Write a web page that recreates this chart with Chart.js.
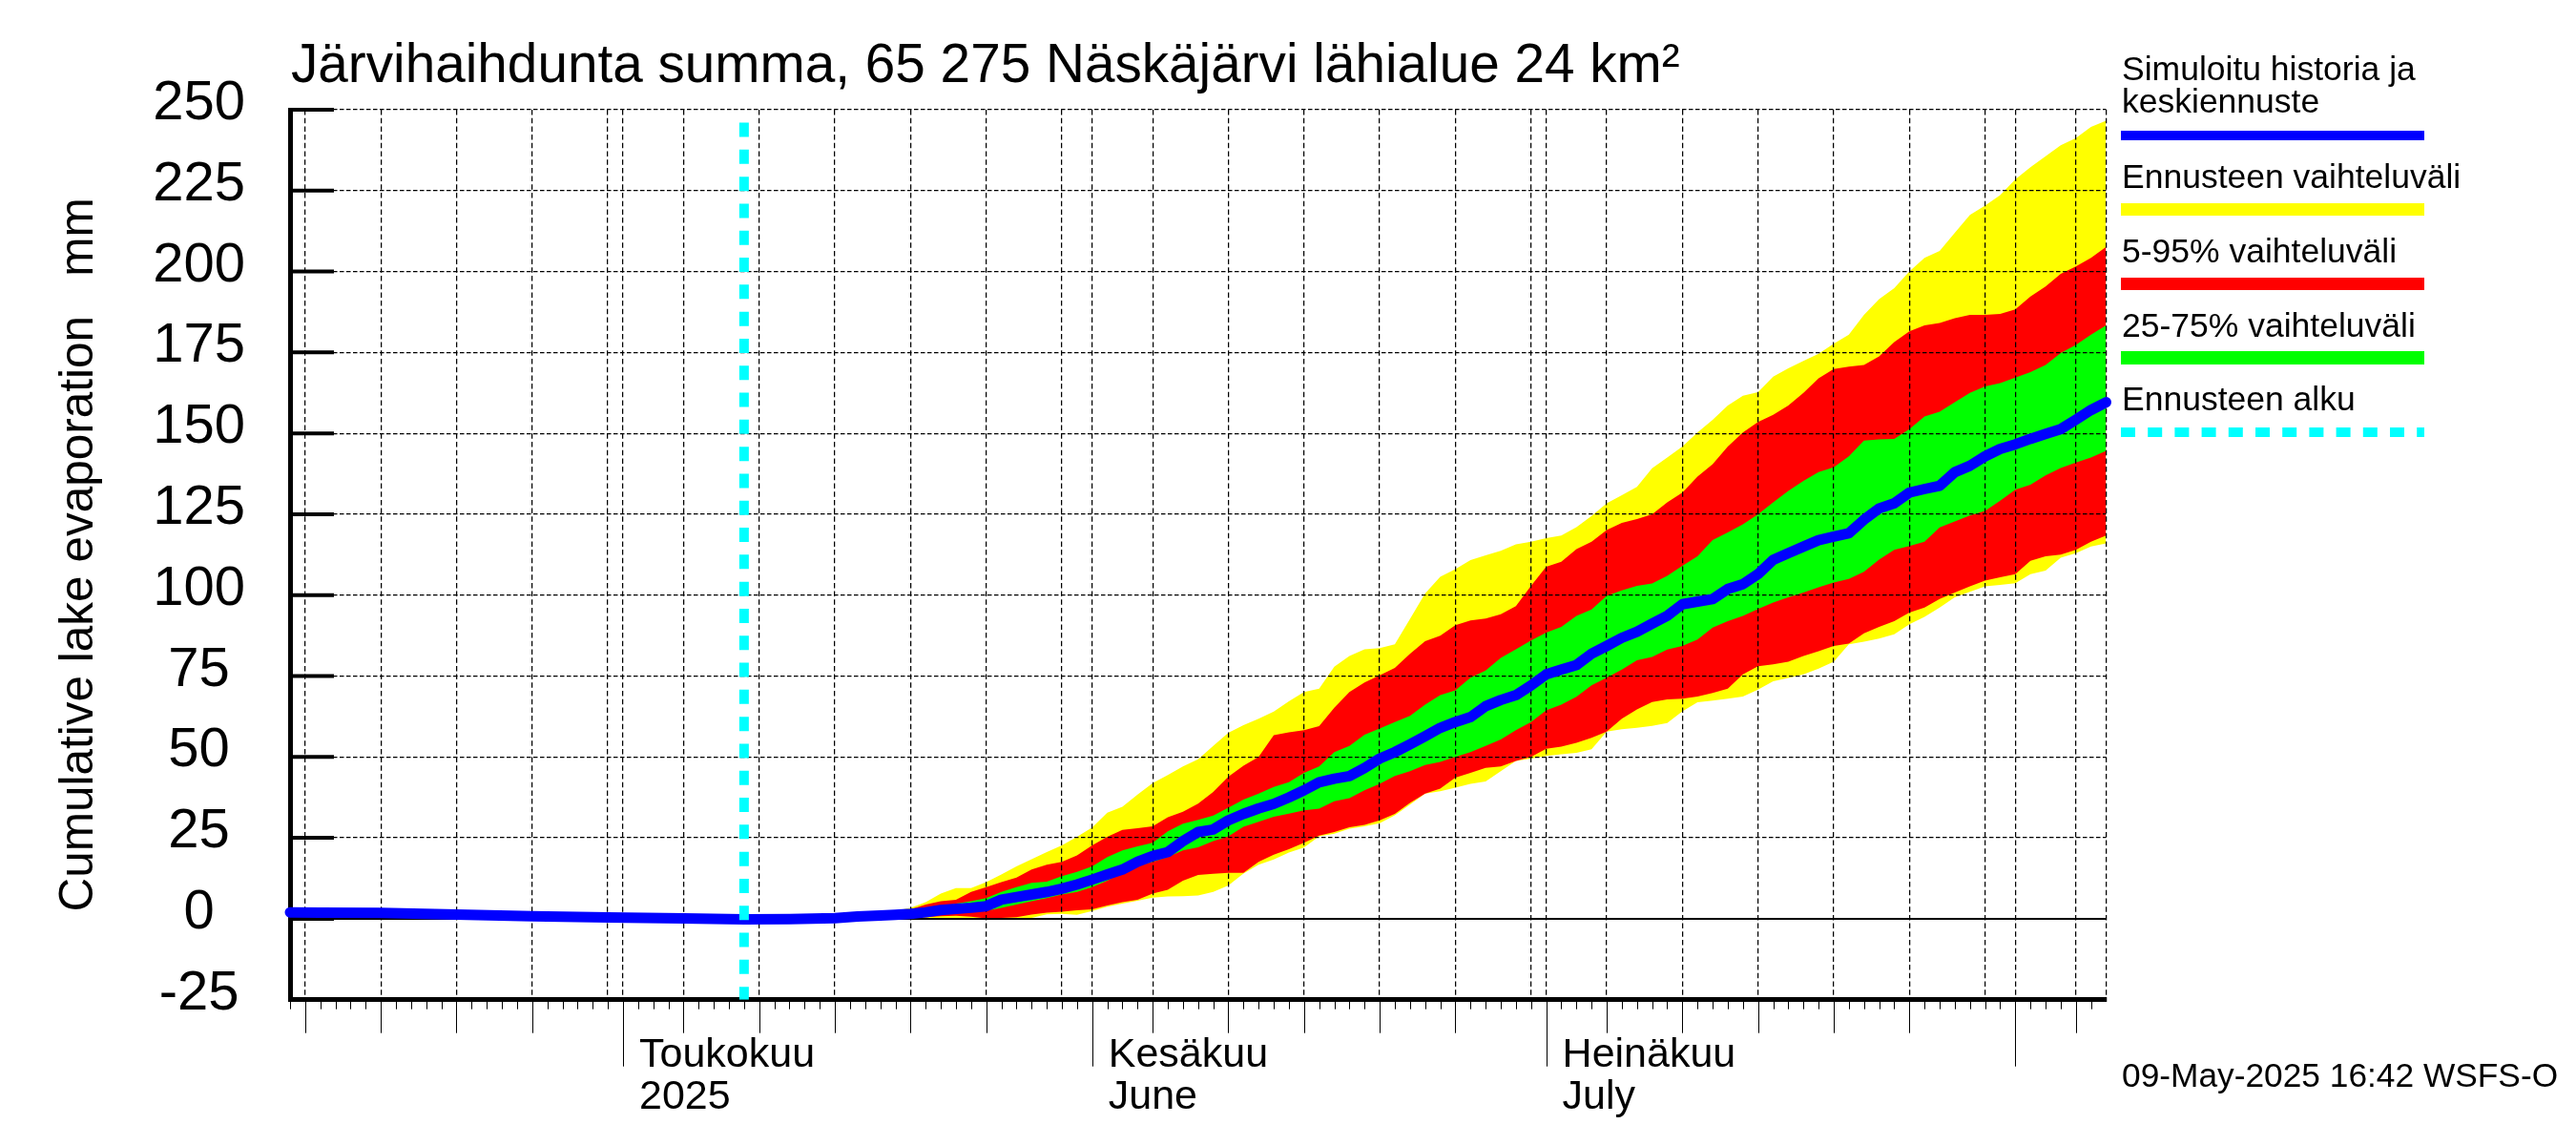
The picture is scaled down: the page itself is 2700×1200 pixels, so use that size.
<!DOCTYPE html>
<html>
<head>
<meta charset="utf-8">
<script src="https://cdn.jsdelivr.net/npm/chart.js@4/dist/chart.umd.min.js"></script>
<style>
html, body { margin: 0; padding: 0; background: #fff; }
canvas { display: block; }
</style>
</head>
<body>
<canvas id="chart" width="2700" height="1200"></canvas>
<script>
// x values are days counted from 1 May 2025
const xMin = -22;
const xMax = 98;
const forecastStart = 8;

const medianDays = [-22, -20, -16, -11, -6, -1, 4, 8, 11, 14, 15.5, 17, 18,
    19, 20, 21, 22, 23, 24, 25, 26, 27, 28, 29, 30, 31, 32, 33, 34, 35, 36, 37, 38,
    39, 40, 41, 42, 43, 44, 45, 46, 47, 48, 49, 50, 51, 52, 53, 54, 55, 56, 57, 58,
    59, 60, 61, 62, 63, 64, 65, 66, 67, 68, 69, 70, 71, 72, 73, 74, 75, 76, 77, 78,
    79, 80, 81, 82, 83, 84, 85, 86, 87, 88, 89, 90, 91, 92, 93, 94, 95, 96, 97, 98];
const median = [2.0, 1.9, 1.8, 1.3, 0.8, 0.4, 0.1, -0.2, -0.1, 0.2, 0.7, 1, 1.2,
    1.5, 2, 2.7, 3.1, 3.4, 3.9, 5.9, 6.7, 7.5, 8.3,
    9.3, 10.6, 12.1, 13.7, 15.2, 17.6, 19.4, 20.6, 24, 26.8,
    27.6, 30.4, 32.4, 34.1, 35.5, 37.5, 39.7, 42.2, 43.3, 44.1,
    46.6, 49.5, 51.5, 53.9, 56.4, 59, 60.8, 62.3, 65.7, 67.6,
    69.1, 72.1, 75.5, 77, 78.4, 81.9, 84.3, 86.8, 88.7, 91.2,
    93.6, 97.2, 98, 98.8, 101.9, 103.4, 106.5, 110.9, 113, 115,
    117, 118.1, 119.1, 123.3, 126.8, 128.4, 131.7, 132.8, 133.8, 138,
    140, 142.9, 145.2, 146.6, 148.3, 149.8, 151.3, 154.2, 157.2, 159.6];

const bandDays = [16, 17, 18, 19, 20, 21, 22, 23, 24, 25,
    26, 27, 28, 29, 30, 31, 32, 33, 34, 35,
    36, 37, 38, 39, 40, 41, 42, 43, 44, 45,
    46, 47, 48, 49, 50, 51, 52, 53, 54, 55,
    56, 57, 58, 59, 60, 61, 62, 63, 64, 65,
    66, 67, 68, 69, 70, 71, 72, 73, 74, 75,
    76, 77, 78, 79, 80, 81, 82, 83, 84, 85,
    86, 87, 88, 89, 90, 91, 92, 93, 94, 95, 96, 97, 98];
const yellowHigh = [0.8, 1.5, 2.5, 3.4, 5.1, 7.8, 9.5, 9.5, 11.3, 13.7,
    16.2, 18.4, 20.6, 22.7, 25.3, 28.2, 32.8, 34.6, 38.4, 41.9,
    44.4, 47.1, 49.3, 53.4, 57.5, 59.8, 61.8, 64, 67.2, 70.1,
    71.1, 77.9, 81.2, 83.3, 83.6, 84.8, 92.6, 100.5, 105.7, 108,
    110.8, 112.3, 113.7, 115.7, 116.5, 117.6, 118.4, 121, 124.5, 128.4,
    130.9, 133.5, 139.2, 142.5, 145.9, 150.3, 154.2, 158.6, 161.6, 162.7,
    167.5, 170.1, 172.4, 174.6, 177.7, 180.5, 186.6, 191.5, 194.9, 200,
    204.2, 206.4, 212, 217.5, 220.4, 223.6, 228.5, 232.2, 235.6, 239, 241.2, 244.7, 246.6];
const yellowLow = [0.7, 0.7, 0.4, 0.3, 0.2, 0.1, 0.1, 0.1, 0.1, 0.1,
    0.2, 0.3, 1.4, 1.5, 1.2, 2.4, 3.7, 4.7, 5.6, 6.5,
    6.9, 7, 7.2, 8.3, 10.3, 14, 16.7, 18.3, 20.5, 22,
    25.5, 26.3, 27.8, 28.6, 29.5, 32, 35.3, 38.7, 39.4, 40.5,
    41.7, 42.4, 45.6, 48.8, 49.5, 50.3, 50.8, 51.3, 52.4, 57.8,
    58.6, 59, 59.6, 60.5, 64.1, 66.9, 67.4, 68, 68.7, 70.8,
    73.4, 74.4, 75.5, 77.3, 79.4, 84.8, 85.6, 86.6, 87.9, 91,
    93.3, 96.2, 99.3, 101, 102.7, 103.2, 103.7, 106.5, 107.6, 111.6, 113, 115, 116];
const redHigh = [0.7, 1.3, 2.2, 2.9, 4.4, 5.4, 5.9, 8.3, 9.8, 11.3,
    12.7, 15.2, 16.7, 17.6, 19.6, 22.7, 25.3, 27.5, 28, 28.6,
    31.4, 33.1, 35.6, 39.2, 43.9, 47.3, 50, 56.7, 57.6, 58.3,
    59.5, 65.2, 70.1, 73, 75.2, 77.5, 81.9, 85.8, 87.5, 90.7,
    92.2, 92.8, 94.1, 96.6, 102.9, 108.8, 110.3, 114.2, 116.5, 120.1,
    122.3, 123.5, 125, 128.7, 131.7, 136.6, 140.5, 145.9, 150.3, 153.5,
    155.7, 158.6, 162.5, 167, 169.9, 170.6, 171.1, 173.8, 178.2, 181.5,
    183.4, 184.1, 185.6, 186.6, 186.6, 186.9, 188.3, 192.3, 195.4, 199.3, 201.6, 204.2, 207.6];
const redLow = [0.7, 0.8, 0.5, 0.5, 0.5, 0.8, 0.9, 0.6, 0.1, 0.3,
    0.5, 1.3, 1.9, 2.2, 2.6, 2.9, 4.1, 5.1, 5.9, 7.8,
    9, 11.8, 13.5, 13.9, 14.2, 14.2, 17.6, 19.8, 21.5, 23.5,
    25.7, 26.8, 28.3, 29, 30.4, 32.4, 35.8, 38.7, 40.2, 43.6,
    45.1, 46.6, 47.1, 48.8, 50, 52.5, 53.2, 54.4, 55.9, 57.8,
    61.8, 64.7, 67, 67.8, 68, 68.7, 69.8, 71.1, 75.5, 78,
    78.6, 79.4, 81.2, 82.7, 84.3, 85, 88.2, 90.2, 92, 94.6,
    96.2, 98.8, 100.8, 102.7, 104.5, 105.5, 106.5, 110.6, 112, 112.5, 114, 116.5, 118.4];
const greenHigh = [0.7, 1.2, 1.8, 2.4, 2.9, 3.7, 4.7, 5.4, 6.4, 8.3,
    9.8, 11.1, 11.5, 13.2, 14.5, 16.2, 19.1, 21.1, 22.4, 23.5,
    27, 29.4, 30.6, 31.9, 34.3, 36.8, 38.7, 40.7, 42.2, 45.1,
    47.1, 51.5, 53.4, 56.9, 58.8, 60.8, 62.7, 66.2, 69.1, 70.6,
    74.5, 76.7, 80.6, 83.3, 86, 88.4, 90.2, 93.6, 95.6, 99.8,
    101.5, 102.9, 103.6, 106, 109.1, 112, 117, 119.4, 121.9, 125,
    128.7, 132.2, 135.3, 138, 139.5, 142.9, 147.8, 148.1, 148.3, 151.3,
    155.2, 156.7, 159.6, 162.5, 164.5, 165.5, 167.2, 168.9, 171.1, 174.8, 177.3, 180.5, 183.4];
const greenLow = [0.7, 0.9, 1, 1.2, 1.5, 2, 2.5, 2.9, 2.5, 3.4,
    4.4, 5.4, 6.4, 7.5, 8.3, 9.8, 11.8, 14.2, 16.2, 17.6,
    19.1, 21.1, 22.1, 24, 25.5, 28.4, 30, 31.5, 32.5, 33.5,
    34, 36.3, 37.3, 39.7, 41.7, 44.1, 45.6, 47.5, 48.5, 50,
    51.5, 53.4, 55.4, 58.3, 60.8, 64.4, 66.2, 68.6, 72.1, 74.5,
    77, 79.9, 80.9, 83.2, 84.3, 86.3, 90, 92, 93.6, 95.7,
    97.7, 99.3, 100.8, 102.4, 103.9, 105, 107.2, 111, 114, 115.2,
    116.5, 120.9, 122.8, 124.6, 126, 129.2, 132.6, 134.1, 137, 139.3, 141, 142.5, 144.6];

const yTicks = [-25, 0, 25, 50, 75, 100, 125, 150, 175, 200, 225, 250];
const gridDays = [-21, -16, -11, -6, -1, 0, 4, 9, 14, 19, 24, 29, 31, 35, 40, 45, 50, 55, 60, 61, 65, 70, 75, 80, 85, 90, 92, 96, 98];
const shortGridDays = [-1, 29, 60, 90, 98];
const monthDays = [0, 31, 61, 92];
const monthLabels = { 0: ['Toukokuu', '2025'], 31: ['Kesäkuu', 'June'], 61: ['Heinäkuu', 'July'] };

const titleText = 'Järvihaihdunta summa, 65 275 Näskäjärvi lähialue 24 km²';
const yLabel = 'Cumulative lake evaporation   mm';
const stampText = '09-May-2025 16:42 WSFS-O';
const fontName = '"Liberation Sans", Arial, sans-serif';

const toPoints = (days, values) => days.map((day, i) => ({ x: day, y: values[i] }));

function bandDataset(days, values, colour, fill) {
    return {
        data: toPoints(days, values),
        borderWidth: 0,
        borderColor: colour,
        backgroundColor: colour,
        pointRadius: 0,
        tension: 0,
        fill: fill
    };
}

// tick marks and the texts that sit outside the plot
const decorations = {
    id: 'decorations',
    beforeDatasetsDraw(chart) {
        const { ctx, chartArea, scales } = chart;
        ctx.save();
        ctx.strokeStyle = '#000';

        ctx.lineWidth = 4;
        yTicks.forEach(value => {
            const y = scales.y.getPixelForValue(value);
            ctx.beginPath();
            ctx.moveTo(chartArea.left, y);
            ctx.lineTo(chartArea.left + 46, y);
            ctx.stroke();
        });

        ctx.lineWidth = 1;
        for (let day = xMin; day < xMax; day++) {
            let length = 10;
            if (monthDays.includes(day)) {
                length = 70;
            } else if (gridDays.includes(day) && !shortGridDays.includes(day)) {
                length = 35;
            }
            const x = Math.round(scales.x.getPixelForValue(day)) + 0.5;
            ctx.beginPath();
            ctx.moveTo(x, chartArea.bottom);
            ctx.lineTo(x, chartArea.bottom + length);
            ctx.stroke();
        }
        ctx.restore();
    },
    afterDraw(chart) {
        const { ctx } = chart;
        ctx.save();
        ctx.fillStyle = '#000';
        ctx.textAlign = 'left';
        ctx.textBaseline = 'alphabetic';

        ctx.font = '56.7px ' + fontName;
        ctx.fillText(titleText, 305, 86);

        ctx.font = '35.5px ' + fontName;
        ctx.fillText('Simuloitu historia ja', 2224, 84);
        ctx.fillText('keskiennuste', 2224, 118);
        ctx.fillText('Ennusteen vaihteluväli', 2224, 197);
        ctx.fillText('5-95% vaihteluväli', 2224, 275);
        ctx.fillText('25-75% vaihteluväli', 2224, 353);
        ctx.fillText('Ennusteen alku', 2224, 430);
        ctx.font = '35.3px ' + fontName;
        ctx.fillText(stampText, 2224, 1139);

        ctx.fillStyle = '#0000ff';
        ctx.fillRect(2223, 137, 318, 10);
        ctx.fillStyle = '#ffff00';
        ctx.fillRect(2223, 213, 318, 13);
        ctx.fillStyle = '#ff0000';
        ctx.fillRect(2223, 291, 318, 13);
        ctx.fillStyle = '#00ff00';
        ctx.fillRect(2223, 368, 318, 14);
        ctx.fillStyle = '#00ffff';
        for (let x = 2223; x < 2541; x += 28.2) {
            ctx.fillRect(x, 448, Math.min(15, 2541 - x), 10);
        }
        ctx.restore();
    }
};

new Chart(document.getElementById('chart'), {
    type: 'line',
    plugins: [decorations],
    data: {
        datasets: [
            {
                data: [{ x: forecastStart, y: 246 }, { x: forecastStart, y: -25 }],
                borderColor: '#00ffff',
                borderWidth: 10,
                borderDash: [15, 13.3],
                borderCapStyle: 'butt',
                pointRadius: 0,
                fill: false
            },
            {
                data: toPoints(medianDays, median),
                borderColor: '#0000ff',
                borderWidth: 11,
                borderJoinStyle: 'round',
                borderCapStyle: 'round',
                pointRadius: 0,
                tension: 0,
                fill: false,
                clip: 8
            },
            bandDataset(bandDays, greenHigh, '#00ff00', '+1'),
            bandDataset(bandDays, greenLow, '#00ff00', false),
            bandDataset(bandDays, redHigh, '#ff0000', '+1'),
            bandDataset(bandDays, redLow, '#ff0000', false),
            bandDataset(bandDays, yellowHigh, '#ffff00', '+1'),
            bandDataset(bandDays, yellowLow, '#ffff00', false)
        ]
    },
    options: {
        responsive: false,
        devicePixelRatio: 1,
        animation: false,
        layout: { padding: { top: 115, right: 492.5, left: 0, bottom: 0 } },
        plugins: {
            legend: { display: false },
            title: { display: false },
            tooltip: { enabled: false },
            filler: { drawTime: 'beforeDraw' }
        },
        scales: {
            x: {
                type: 'linear',
                min: xMin,
                max: xMax,
                afterFit: scale => { scale.height = 152.3; },
                afterBuildTicks: scale => {
                    scale.ticks = gridDays.map(value => ({ value: value }));
                },
                border: {
                    color: '#000',
                    width: 5,
                    dash: [5.5, 3.2]
                },
                grid: {
                    color: '#000',
                    lineWidth: 1.25,
                    drawTicks: false
                },
                ticks: {
                    autoSkip: false,
                    maxRotation: 0,
                    minRotation: 0,
                    align: 'start',
                    labelOffset: 17,
                    padding: 36,
                    color: '#000',
                    font: { family: fontName, size: 43, lineHeight: 1.03 },
                    callback: value => monthLabels[value] || ''
                }
            },
            y: {
                type: 'linear',
                min: -25,
                max: 250,
                afterFit: scale => { scale.width = 304; },
                afterBuildTicks: scale => {
                    scale.ticks = yTicks.map(value => ({ value: value }));
                },
                border: {
                    color: '#000',
                    width: 5,
                    dash: context => (context.tick && context.tick.value === 0 ? [] : [4.5, 2.5])
                },
                grid: {
                    color: '#000',
                    lineWidth: context => (context.tick && context.tick.value === 0 ? 2 : 1.25),
                    drawTicks: false
                },
                ticks: {
                    autoSkip: false,
                    crossAlign: 'center',
                    labelOffset: -6,
                    padding: 47,
                    color: '#000',
                    font: { family: fontName, size: 58 }
                },
                title: {
                    display: true,
                    text: yLabel,
                    color: '#000',
                    font: { family: fontName, size: 49.5 },
                    padding: { top: 54, bottom: 0 }
                }
            }
        }
    }
});
</script>
</body>
</html>
